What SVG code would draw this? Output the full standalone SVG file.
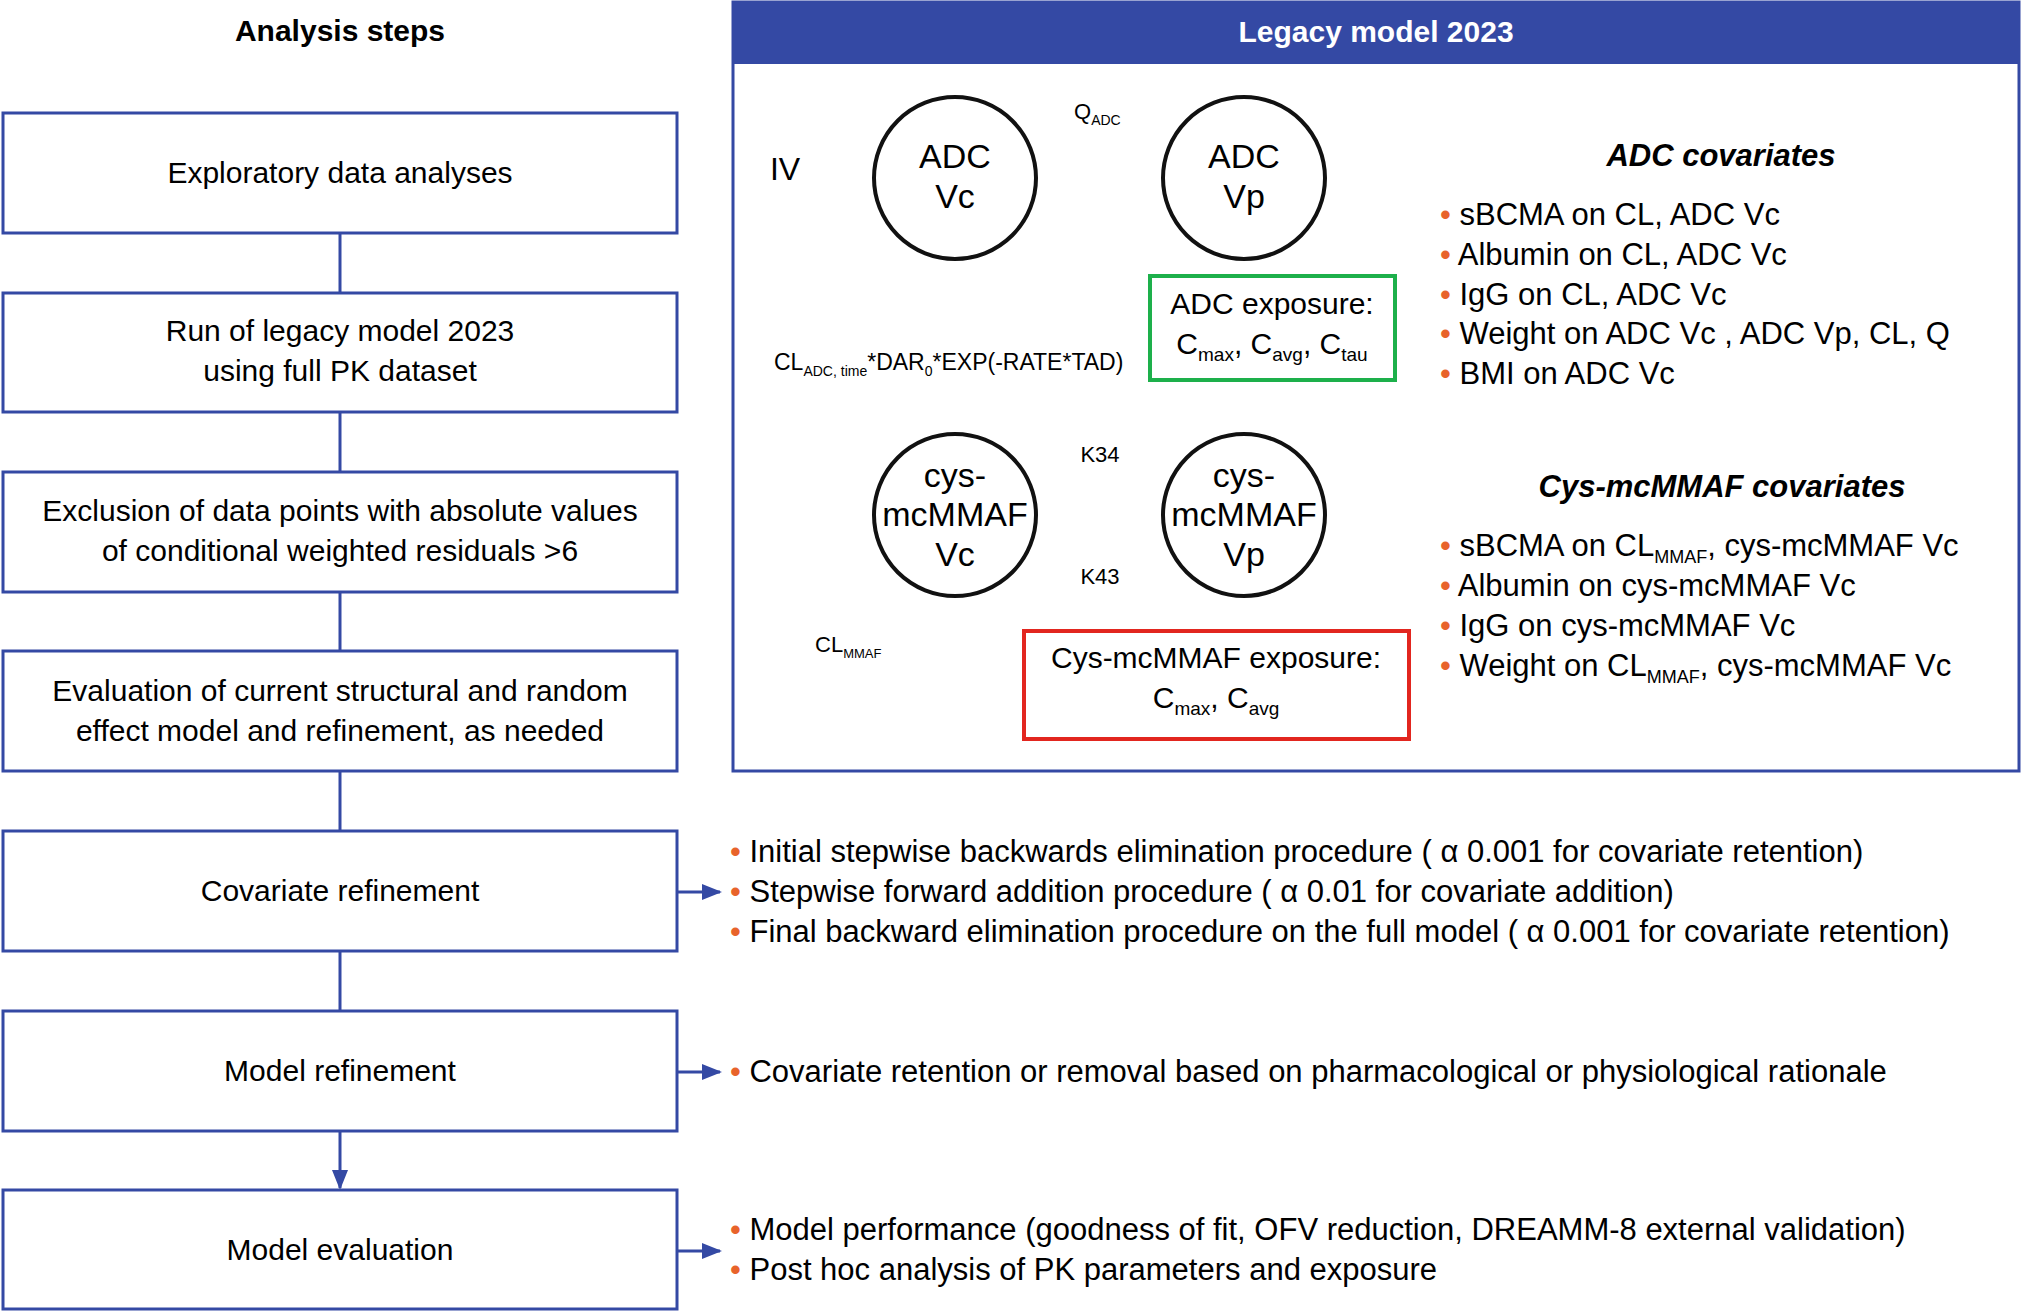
<svg xmlns="http://www.w3.org/2000/svg" width="2032" height="1311" viewBox="0 0 2032 1311">
<style>
text{font-family:"Liberation Sans",Arial,sans-serif;fill:#000}
.box{fill:#fff;stroke:#3449a4;stroke-width:3}
.bt{font-size:30px;text-anchor:middle}
.ct{font-size:34px;text-anchor:middle}
.circ{fill:#fff;stroke:#111;stroke-width:4}
.bl{font-size:31px}
.bu{fill:#e8632b}
.ln{stroke:#3449a4;stroke-width:3;fill:none}
.k{stroke:#111;stroke-width:4;fill:none}
.sm{font-size:22px;text-anchor:middle}
</style>
<defs>
<marker id="ab" viewBox="0 0 10 10" refX="9" refY="5" markerWidth="6" markerHeight="6" orient="auto" markerUnits="userSpaceOnUse"><path d="M0,0L10,5L0,10z" fill="#3449a4" transform="scale(1)"/></marker>
<marker id="abb" viewBox="0 0 10 10" refX="9" refY="5" markerWidth="20" markerHeight="16" orient="auto" markerUnits="userSpaceOnUse" preserveAspectRatio="none"><path d="M0,0L10,5L0,10z" fill="#3449a4"/></marker>
<marker id="ak" viewBox="0 0 10 10" refX="9" refY="5" markerWidth="20" markerHeight="18" orient="auto" markerUnits="userSpaceOnUse" preserveAspectRatio="none"><path d="M0,0L10,5L0,10z" fill="#111"/></marker>
<marker id="ag" viewBox="0 0 10 10" refX="9" refY="5" markerWidth="22" markerHeight="18" orient="auto" markerUnits="userSpaceOnUse" preserveAspectRatio="none"><path d="M0,0L10,5L0,10z" fill="#1db04b"/></marker>
<marker id="ar" viewBox="0 0 10 10" refX="9" refY="5" markerWidth="22" markerHeight="18" orient="auto" markerUnits="userSpaceOnUse" preserveAspectRatio="none"><path d="M0,0L10,5L0,10z" fill="#e2261f"/></marker>
</defs>
<rect width="2032" height="1311" fill="#fff"/>
<text x="340" y="41" font-size="30" font-weight="bold" text-anchor="middle">Analysis steps</text>

<g id="connectors">
<line class="ln" x1="340" y1="233" x2="340" y2="293"/>
<line class="ln" x1="340" y1="412" x2="340" y2="472"/>
<line class="ln" x1="340" y1="592" x2="340" y2="651"/>
<line class="ln" x1="340" y1="771" x2="340" y2="831"/>
<line class="ln" x1="340" y1="951" x2="340" y2="1011"/>
<line class="ln" x1="340" y1="1131" x2="340" y2="1188" marker-end="url(#abb)"/>
<line class="ln" x1="677" y1="892" x2="720" y2="892" marker-end="url(#abb)"/>
<line class="ln" x1="677" y1="1072" x2="720" y2="1072" marker-end="url(#abb)"/>
<line class="ln" x1="677" y1="1251" x2="720" y2="1251" marker-end="url(#abb)"/>
<line class="k" x1="1033" y1="143" x2="1170" y2="143" marker-end="url(#ak)"/>
<line class="k" x1="1167" y1="207" x2="1032" y2="207" marker-end="url(#ak)"/>
<line class="k" x1="1033" y1="483" x2="1170" y2="483" marker-end="url(#ak)"/>
<line class="k" x1="1167" y1="549" x2="1032" y2="549" marker-end="url(#ak)"/>
<path class="k" d="M785,198 Q820,238 871,203" marker-end="url(#ak)"/>
<line class="k" x1="955" y1="260" x2="955" y2="432" stroke-dasharray="16,10" marker-end="url(#ak)"/>
<path d="M1008,241 Q1050,325 1138,332" fill="none" stroke="#1db04b" stroke-width="4" marker-end="url(#ag)"/>
<path d="M985,596 Q985,670 1022,693" fill="none" stroke="#e2261f" stroke-width="4" marker-end="url(#ar)"/>
<line class="k" x1="955" y1="597" x2="955" y2="700" marker-end="url(#ak)"/>
</g>

<g id="step1"><rect class="box" x="3" y="113" width="674" height="120"/><text class="bt" x="340" y="183">Exploratory data analyses</text></g>
<g id="step2"><rect class="box" x="3" y="293" width="674" height="119"/><text class="bt" x="340" y="341">Run of legacy model 2023</text><text class="bt" x="340" y="381">using full PK dataset</text></g>
<g id="step3"><rect class="box" x="3" y="472" width="674" height="120"/><text class="bt" x="340" y="521">Exclusion of data points with absolute values</text><text class="bt" x="340" y="561">of conditional weighted residuals &gt;6</text></g>
<g id="step4"><rect class="box" x="3" y="651" width="674" height="120"/><text class="bt" x="340" y="701">Evaluation of current structural and random</text><text class="bt" x="340" y="741">effect model and refinement, as needed</text></g>
<g id="step5"><rect class="box" x="3" y="831" width="674" height="120"/><text class="bt" x="340" y="901">Covariate refinement</text></g>
<g id="step6"><rect class="box" x="3" y="1011" width="674" height="120"/><text class="bt" x="340" y="1081">Model refinement</text></g>
<g id="step7"><rect class="box" x="3" y="1190" width="674" height="119"/><text class="bt" x="340" y="1260">Model evaluation</text></g>

<g id="panel">
<rect x="733" y="2" width="1286" height="769" fill="#fff" stroke="#3449a4" stroke-width="3"/>
<rect x="733" y="2" width="1286" height="62" fill="#3449a4"/>
<text x="1376" y="42" font-size="30" font-weight="bold" text-anchor="middle" style="fill:#fff">Legacy model 2023</text>
</g>

<g id="adcvc"><circle class="circ" cx="955" cy="178" r="81"/><text class="ct" x="955" y="168">ADC</text><text class="ct" x="955" y="208">Vc</text></g>
<g id="adcvp"><circle class="circ" cx="1244" cy="178" r="81"/><text class="ct" x="1244" y="168">ADC</text><text class="ct" x="1244" y="208">Vp</text></g>
<g id="cysvc"><circle class="circ" cx="955" cy="515" r="81"/><text class="ct" x="955" y="487">cys-</text><text class="ct" x="955" y="526">mcMMAF</text><text class="ct" x="955" y="566">Vc</text></g>
<g id="cysvp"><circle class="circ" cx="1244" cy="515" r="81"/><text class="ct" x="1244" y="487">cys-</text><text class="ct" x="1244" y="526">mcMMAF</text><text class="ct" x="1244" y="566">Vp</text></g>

<g id="labels">
<text x="1074" y="119" font-size="22">Q<tspan font-size="14" dy="6">ADC</tspan></text>
<text x="785" y="180" font-size="32" text-anchor="middle">IV</text>
<text class="sm" x="1100" y="462">K34</text>
<text class="sm" x="1100" y="584">K43</text>
<text x="774" y="370" font-size="23">CL<tspan font-size="14" dy="6">ADC, time</tspan><tspan dy="-6">*DAR</tspan><tspan font-size="14" dy="6">0</tspan><tspan dy="-6">*EXP(-RATE*TAD)</tspan></text>
<text x="815" y="652" font-size="22">CL<tspan font-size="13" dy="6">MMAF</tspan></text>
</g>

<g id="adcexp"><rect x="1150" y="276" width="245" height="104" fill="#fff" stroke="#1db04b" stroke-width="4"/>
<text class="bt" x="1272" y="314">ADC exposure:</text>
<text x="1272" y="354" font-size="30" text-anchor="middle">C<tspan font-size="19" dy="7">max</tspan><tspan dy="-7">, C</tspan><tspan font-size="19" dy="7">avg</tspan><tspan dy="-7">, C</tspan><tspan font-size="19" dy="7">tau</tspan></text></g>
<g id="cysexp"><rect x="1024" y="631" width="385" height="108" fill="#fff" stroke="#e2261f" stroke-width="4"/>
<text class="bt" x="1216" y="668">Cys-mcMMAF exposure:</text>
<text x="1216" y="708" font-size="30" text-anchor="middle">C<tspan font-size="19" dy="7">max</tspan><tspan dy="-7">, C</tspan><tspan font-size="19" dy="7">avg</tspan></text></g>

<g id="adccov">
<text x="1721" y="166" font-size="31" font-weight="bold" font-style="italic" text-anchor="middle">ADC covariates</text>
<text class="bl" x="1440" y="225"><tspan class="bu">• </tspan>sBCMA on CL, ADC Vc</text>
<text class="bl" x="1440" y="265"><tspan class="bu">• </tspan>Albumin on CL, ADC Vc</text>
<text class="bl" x="1440" y="305"><tspan class="bu">• </tspan>IgG on CL, ADC Vc</text>
<text class="bl" x="1440" y="344"><tspan class="bu">• </tspan>Weight on ADC Vc , ADC Vp, CL, Q</text>
<text class="bl" x="1440" y="384"><tspan class="bu">• </tspan>BMI on ADC Vc</text>
</g>
<g id="cyscov">
<text x="1722" y="497" font-size="31" font-weight="bold" font-style="italic" text-anchor="middle">Cys-mcMMAF covariates</text>
<text class="bl" x="1440" y="556"><tspan class="bu">• </tspan>sBCMA on CL<tspan font-size="18" dy="7">MMAF</tspan><tspan dy="-7">, cys-mcMMAF Vc</tspan></text>
<text class="bl" x="1440" y="596"><tspan class="bu">• </tspan>Albumin on cys-mcMMAF Vc</text>
<text class="bl" x="1440" y="636"><tspan class="bu">• </tspan>IgG on cys-mcMMAF Vc</text>
<text class="bl" x="1440" y="676"><tspan class="bu">• </tspan>Weight on CL<tspan font-size="18" dy="7">MMAF</tspan><tspan dy="-7">, cys-mcMMAF Vc</tspan></text>
</g>

<g id="notes">
<text class="bl" x="730" y="862"><tspan class="bu">• </tspan>Initial stepwise backwards elimination procedure ( α 0.001 for covariate retention)</text>
<text class="bl" x="730" y="902"><tspan class="bu">• </tspan>Stepwise forward addition procedure ( α 0.01 for covariate addition)</text>
<text class="bl" x="730" y="942"><tspan class="bu">• </tspan>Final backward elimination procedure on the full model ( α 0.001 for covariate retention)</text>
<text class="bl" x="730" y="1082"><tspan class="bu">• </tspan>Covariate retention or removal based on pharmacological or physiological rationale</text>
<text class="bl" x="730" y="1240"><tspan class="bu">• </tspan>Model performance (goodness of fit, OFV reduction, DREAMM-8 external validation)</text>
<text class="bl" x="730" y="1280"><tspan class="bu">• </tspan>Post hoc analysis of PK parameters and exposure</text>
</g>
</svg>
